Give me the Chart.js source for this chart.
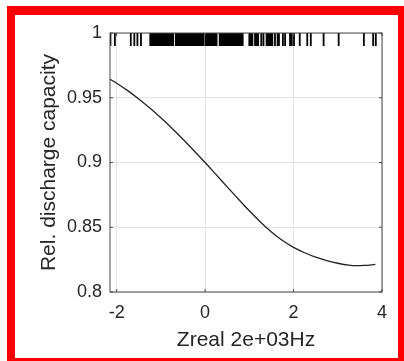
<!DOCTYPE html>
<html>
<head>
<meta charset="utf-8">
<script src="https://cdn.jsdelivr.net/npm/chart.js@4.4.1/dist/chart.umd.min.js"></script>
<style>
  html, body { margin: 0; padding: 0; background: #ffffff; }
  #wrap { position: absolute; left: 0; top: 0; width: 404px; height: 361px; overflow: hidden; background: #ffffff; }
  #c { position: absolute; left: 0; top: 0; }
  #frame {
    position: absolute; left: 7px; top: 6px; width: 399px; height: 360px;
    box-sizing: border-box; border: 8px solid #ff0000; border-top-width: 9px;
    pointer-events: none;
  }
</style>
</head>
<body>
<div id="wrap">
  <canvas id="c" width="404" height="361"></canvas>
  <div id="frame"></div>
</div>
<script>
// Partial dependence curve: relative discharge capacity vs. Zreal at 2 kHz
const curveX = [-2.15, -2.0, -1.75, -1.5, -1.25, -1.0, -0.75, -0.5, -0.25, 0, 0.25, 0.5, 0.75, 1.0, 1.25,
                1.5, 1.75, 2.0, 2.25, 2.5, 2.75, 3.0, 3.25, 3.4, 3.6, 3.85];
const curveY = [0.9643, 0.9612, 0.9555, 0.9490, 0.9420, 0.9345, 0.9265, 0.9180, 0.9091, 0.9000, 0.8906,
                0.8812, 0.8718, 0.8627, 0.8541, 0.8464, 0.8398, 0.8345, 0.8303, 0.8269, 0.8243, 0.8222,
                0.8207, 0.8203, 0.8205, 0.8213];

// Observed Zreal values shown as a rug along the top edge
const rugX = [
  -2.14, -2.04, -1.68, -1.60, -1.53, -1.45,
  -1.24, -1.22, -1.19, -1.17, -1.15, -1.12, -1.09, -1.07, -1.05, -1.02, -0.99, -0.97, -0.95, -0.92,
  -0.90, -0.87, -0.85, -0.83, -0.80, -0.77, -0.75, -0.72, -0.66, -0.64, -0.61, -0.59, -0.57, -0.54,
  -0.51, -0.49, -0.47, -0.44, -0.41, -0.39, -0.37, -0.34, -0.31, -0.29, -0.27, -0.24, -0.21, -0.19,
  -0.16, -0.14, -0.11, -0.09, -0.06, -0.04, 0.01, 0.03, 0.06, 0.08, 0.11, 0.13, 0.16, 0.18, 0.21,
  0.23, 0.26, 0.33, 0.35, 0.38, 0.40, 0.43, 0.45, 0.48, 0.50, 0.53, 0.56, 0.58, 0.61, 0.63, 0.65,
  0.68, 0.70, 0.73, 0.75, 0.78, 0.80, 0.83, 0.85,
  1.00, 1.04, 1.07, 1.13, 1.16, 1.20, 1.27, 1.32, 1.39, 1.42, 1.46, 1.49, 1.52, 1.58, 1.64, 1.67,
  1.76, 1.81, 1.92, 1.96, 2.01, 2.14, 2.31, 2.39, 2.68, 3.02, 3.59, 3.80, 3.86
];
const rugSpan = [0.99, 1];

const xTicks = [-2, 0, 2, 4];
const yTicks = [0.8, 0.85, 0.9, 0.95, 1];
const xRange = [-2.15, 4];
const yRange = [0.8, 1];
const xTitle = 'Zreal 2e+03Hz';
const yTitle = 'Rel. discharge capacity';

const fontFamily = 'Arial, "Liberation Sans", Helvetica, sans-serif';
const textColor = '#262626';

const curveData = curveX.map((x, i) => ({ x, y: curveY[i] }));
const rugData = [];
rugX.forEach(x => {
  rugData.push({ x, y: rugSpan[0] }, { x, y: rugSpan[1] }, { x, y: null });
});

// Box around the axes with short inward tick marks on all four sides
const axesBox = {
  id: 'axesBox',
  afterDatasetsDraw(chart) {
    const { ctx, chartArea: a, scales } = chart;
    const len = 3;
    ctx.save();
    ctx.strokeStyle = '#4a4a4a';
    ctx.lineWidth = 1;
    ctx.strokeRect(a.left, a.top, a.right - a.left, a.bottom - a.top);
    ctx.beginPath();
    scales.x.ticks.forEach(t => {
      const px = scales.x.getPixelForValue(t.value);
      ctx.moveTo(px, a.bottom); ctx.lineTo(px, a.bottom - len);
      ctx.moveTo(px, a.top); ctx.lineTo(px, a.top + len);
    });
    scales.y.ticks.forEach(t => {
      const py = scales.y.getPixelForValue(t.value);
      ctx.moveTo(a.left, py); ctx.lineTo(a.left + len, py);
      ctx.moveTo(a.right, py); ctx.lineTo(a.right - len, py);
    });
    ctx.stroke();
    ctx.restore();
  }
};

new Chart(document.getElementById('c'), {
  type: 'scatter',
  data: {
    datasets: [
      {
        data: rugData,
        showLine: true,
        spanGaps: false,
        borderColor: '#000000',
        borderWidth: 1.8,
        borderCapStyle: 'butt',
        pointRadius: 0,
        pointHoverRadius: 0
      },
      {
        data: curveData,
        showLine: true,
        borderColor: '#222222',
        borderWidth: 1.3,
        cubicInterpolationMode: 'monotone',
        pointRadius: 0,
        pointHoverRadius: 0
      }
    ]
  },
  options: {
    responsive: false,
    animation: false,
    devicePixelRatio: 1,
    events: [],
    layout: { padding: { left: 0, top: 33, right: 22, bottom: 0 } },
    plugins: { legend: { display: false }, tooltip: { enabled: false }, title: { display: false } },
    scales: {
      x: {
        type: 'linear',
        min: xRange[0],
        max: xRange[1],
        afterBuildTicks: s => { s.ticks = xTicks.map(v => ({ value: v })); },
        afterFit: s => { s.height = 69; },
        grid: { color: '#e3e3e3', drawTicks: false },
        border: { display: false },
        ticks: {
          color: textColor,
          font: { family: fontFamily, size: 18 },
          padding: 10,
          maxRotation: 0,
          autoSkip: false,
          callback: v => String(v)
        },
        title: {
          display: true,
          text: xTitle,
          color: textColor,
          font: { family: fontFamily, size: 21 },
          padding: { top: 0, bottom: 8 }
        }
      },
      y: {
        type: 'linear',
        min: yRange[0],
        max: yRange[1],
        afterBuildTicks: s => { s.ticks = yTicks.map(v => ({ value: v })); },
        afterFit: s => { s.width = 110; },
        grid: { color: '#e3e3e3', drawTicks: false },
        border: { display: false },
        ticks: {
          color: textColor,
          font: { family: fontFamily, size: 18 },
          padding: 8,
          autoSkip: false,
          callback: v => String(Number(v.toFixed(2)))
        },
        title: {
          display: true,
          text: yTitle,
          color: textColor,
          font: { family: fontFamily, size: 21 },
          padding: { top: 37, bottom: 0 }
        }
      }
    }
  },
  plugins: [axesBox]
});
</script>
</body>
</html>
